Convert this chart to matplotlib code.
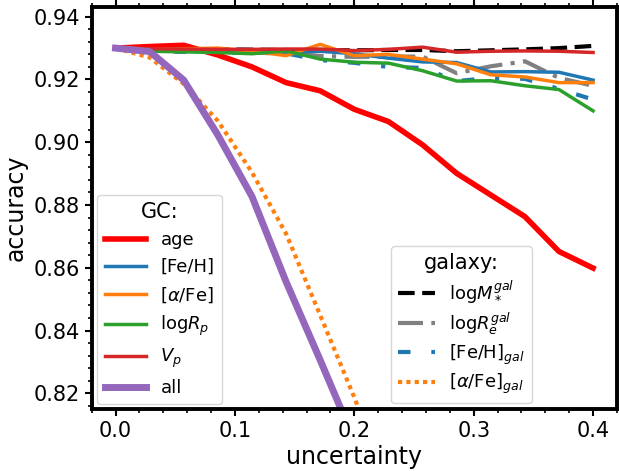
import numpy as np
import matplotlib
matplotlib.use("Agg")
import matplotlib.pyplot as plt
from matplotlib.ticker import AutoMinorLocator

# ---- data ----
uncertainty = [0.0, 0.0286, 0.0571, 0.0857, 0.1143, 0.1429, 0.1714, 0.2,
               0.2286, 0.2571, 0.2857, 0.3143, 0.3429, 0.3714, 0.4]

gc_age   = [0.930, 0.9305, 0.9309, 0.9278, 0.9240, 0.9190, 0.9164, 0.9105,
            0.9066, 0.8992, 0.8901, 0.8832, 0.8763, 0.8652, 0.8599]
gc_feh   = [0.930, 0.9294, 0.9292, 0.9289, 0.9284, 0.9286, 0.9290, 0.9282,
            0.9268, 0.9256, 0.9254, 0.9224, 0.9225, 0.9223, 0.9198]
gc_afe   = [0.930, 0.9297, 0.9298, 0.9300, 0.9290, 0.9276, 0.9312, 0.9276,
            0.9280, 0.9265, 0.9250, 0.9215, 0.9208, 0.9190, 0.9190]
gc_logrp = [0.930, 0.9290, 0.9288, 0.9286, 0.9282, 0.9291, 0.9265, 0.9255,
            0.9252, 0.9228, 0.9195, 0.9196, 0.9180, 0.9168, 0.9100]
gc_vp    = [0.930, 0.9298, 0.9297, 0.9296, 0.9296, 0.9297, 0.9297, 0.9292,
            0.9296, 0.9303, 0.9287, 0.9290, 0.9291, 0.9290, 0.9286]
gc_all   = [0.930, 0.9289, 0.9198, 0.9023, 0.8827, 0.8555, 0.8306, 0.8050]

gal_logm  = [0.930, 0.9298, 0.9297, 0.9296, 0.9295, 0.9294, 0.9293, 0.9293,
             0.9294, 0.9294, 0.9290, 0.9293, 0.9296, 0.9300, 0.9307]
gal_logre = [0.930, 0.9293, 0.9290, 0.9290, 0.9288, 0.9285, 0.9275, 0.9272,
             0.9273, 0.9273, 0.9220, 0.9242, 0.9258, 0.9205, 0.9180]
gal_feh   = [0.930, 0.9290, 0.9288, 0.9286, 0.9285, 0.9283, 0.9262, 0.9253,
             0.9240, 0.9237, 0.9195, 0.9205, 0.9202, 0.9170, 0.9136]
gal_afe   = [0.930, 0.9270, 0.9186, 0.9068, 0.8904, 0.8708, 0.8449, 0.8187,
             0.7900]

gc_labels = ['age', '[Fe/H]', r'[$\alpha$/Fe]', r'log$R_p$', r'$V_p$', 'all']
gal_labels = [r'log$M_*^{gal}$', r'log$R_e^{gal}$', r'[Fe/H]$_{gal}$',
              r'[$\alpha$/Fe]$_{gal}$']

x = np.array(uncertainty)

fig = plt.figure(figsize=(6.19, 4.71), dpi=100)
ax = fig.add_axes([0.1481, 0.1316, 0.8486, 0.8529])

# galaxy lines
g_handles = []
h, = ax.plot(x[:len(gal_logm)], gal_logm, color='black', ls=(0, (4, 1.8)), lw=3)
g_handles.append(h)
h, = ax.plot(x[:len(gal_logre)], gal_logre, color='gray', ls=(0, (6, 2, 1, 2)), lw=3)
g_handles.append(h)
h, = ax.plot(x[:len(gal_feh)], gal_feh, color='tab:blue', ls=(0, (3, 5, 1, 5)), lw=3)
g_handles.append(h)
h, = ax.plot(x[:len(gal_afe)], gal_afe, color='tab:orange', ls=(0, (1, 1)), lw=3)
g_handles.append(h)

# GC lines
c_handles = []
for vals, col, lw in [(gc_age, 'red', 4), (gc_feh, 'tab:blue', 2.5),
                      (gc_afe, 'tab:orange', 2.5), (gc_logrp, 'tab:green', 2.5),
                      (gc_vp, 'tab:red', 2.5), (gc_all, 'tab:purple', 5)]:
    h, = ax.plot(x[:len(vals)], vals, color=col, lw=lw)
    c_handles.append(h)

ax.set_xlim(-0.02, 0.42)
ax.set_ylim(0.815, 0.943)
ax.set_xticks([0.0, 0.1, 0.2, 0.3, 0.4])
ax.set_yticks([0.82, 0.84, 0.86, 0.88, 0.90, 0.92, 0.94])
ax.xaxis.set_minor_locator(AutoMinorLocator(5))
ax.yaxis.set_minor_locator(AutoMinorLocator(5))
ax.tick_params(which='both', direction='out', top=True, labelsize=15, width=1.5)
ax.tick_params(which='major', length=5)
ax.tick_params(which='minor', length=3, width=1.2)
for sp in ax.spines.values():
    sp.set_linewidth(2.8)

ax.set_xlabel('uncertainty', fontsize=17, labelpad=3)
ax.set_ylabel('accuracy', fontsize=17, labelpad=4)

leg1 = ax.legend(c_handles, gc_labels, title='GC:', fontsize=13, title_fontsize=15,
                 loc='lower left', bbox_to_anchor=(0.0107, 0.0117), borderaxespad=0,
                 handlelength=2.3)
ax.add_artist(leg1)
leg2 = ax.legend(g_handles, gal_labels, title='galaxy:', fontsize=13, title_fontsize=15,
                 loc='lower right', bbox_to_anchor=(0.838, 0.014), borderaxespad=0,
                 labelspacing=0.3)

fig.savefig('out.png', dpi=100)
